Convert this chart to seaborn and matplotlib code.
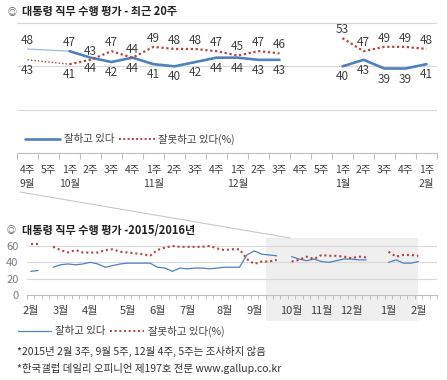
import numpy as np
import pandas as pd
import matplotlib
matplotlib.use("Agg")
import matplotlib.pyplot as plt
from matplotlib.lines import Line2D
from matplotlib.patches import Rectangle
import matplotlib.transforms as mtransforms
import seaborn as sns

nan = np.nan

# weekly, 2015 Feb wk1 .. 2016 Feb wk1 (%)
year_good = [29, 30, nan, 34, 37, 38, 37, 38, 40, 38,
             34, 36, 38, 39, 39, 39, 39, 34, 33, 29,
             33, 32, 33, 33, 32, 33, 34, 34, 34, 49,
             54, 50, 49, 48, nan, 47, 44, 42, 44, 41,
             40, 42, 44, 44, 43, 43, nan, nan, 40, 43,
             39, 39, 41]
year_bad = [62, 62, nan, 59, 55, 52, 55, 52, 52, 52,
            55, 56, 53, 52, 51, 50, 48, 55, 58, 60,
            59, 59, 59, 59, 60, 57, 55, 56, 56, 44,
            38, 41, 41, 43, nan, 41, 43, 47, 44, 49,
            48, 48, 47, 45, 47, 46, nan, nan, 53, 47,
            49, 49, 48]
year_months = ["2월", "3월", "4월", "5월", "6월", "7월", "8월", "9월",
               "10월", "11월", "12월", "1월", "2월"]
year_month_week = [0, 4, 8, 13, 17, 21, 26, 30, 35, 39, 43, 48, 52]

# last 20 weeks
recent_weeks = ["4주", "5주", "1주", "2주", "3주", "4주", "1주", "2주", "3주", "4주",
                "1주", "2주", "3주", "4주", "5주", "1주", "2주", "3주", "4주", "1주"]
recent_months = ["9월", "", "10월", "", "", "", "11월", "", "", "",
                 "12월", "", "", "", "", "1월", "", "", "", "2월"]
recent_good = year_good[33:]
recent_bad = year_bad[33:]

BLUE = "#4f81bd"
RED = "#b5433f"
GRID = "#d9d9d9"
AXIS = "#bfbfbf"
TXT = "#404040"

sns.set_theme(style="white")
plt.rcParams["font.family"] = ["Noto Sans CJK KR", "DejaVu Sans"]

W, H = 447, 380
fig = plt.figure(figsize=(W / 100, H / 100), dpi=100)


def px_box(left, top, right, bottom):
    return [left / W, 1 - bottom / H, (right - left) / W, (bottom - top) / H]


def draw_series(ax, y, **kw):
    df = pd.DataFrame({"x": np.arange(len(y)), "y": y})
    df["seg"] = df["y"].isna().cumsum()
    df = df.dropna()
    for _, part in df.groupby("seg"):
        sns.lineplot(data=part, x="x", y="y", ax=ax, **kw)


def draw_bridges(ax, y, **kw):
    for i in range(1, len(y) - 1):
        if np.isnan(y[i]) and not np.isnan(y[i - 1]) and not np.isnan(y[i + 1]):
            part = pd.DataFrame({"x": [i - 1, i + 1], "y": [y[i - 1], y[i + 1]]})
            sns.lineplot(data=part, x="x", y="y", ax=ax, **kw)


def style_axes(ax):
    for s in ["left", "right", "top"]:
        ax.spines[s].set_visible(False)
    ax.spines["bottom"].set_color(AXIS)
    ax.spines["bottom"].set_linewidth(0.8)
    ax.set_axisbelow(True)
    ax.yaxis.grid(True, color=GRID, lw=0.8)
    ax.xaxis.grid(False)
    ax.set_xlabel("")
    ax.set_ylabel("")


# ---- top: last 20 weeks
ax1 = fig.add_axes(px_box(17, 153 - 62 * 130 / 60, 437, 153))
ax1.patch.set_alpha(0)
draw_bridges(ax1, recent_good, color="#9dbbe0", lw=0.9)
draw_bridges(ax1, recent_bad, color=RED, lw=1.0, linestyle=(0, (1, 1.5)))
draw_series(ax1, recent_good, color=BLUE, lw=1.9)
draw_series(ax1, recent_bad, color=RED, lw=1.6, linestyle=(0, (1, 1.2)))

for i, (g, b) in enumerate(zip(recent_good, recent_bad)):
    if np.isnan(g):
        continue
    g_up = g >= b + 3
    ax1.annotate(f"{g:.0f}", (i, g), xytext=(0, 1.5 if g_up else -3),
                 textcoords="offset points", ha="center",
                 va="bottom" if g_up else "top", fontsize=8.5, color=TXT)
    ax1.annotate(f"{b:.0f}", (i, b), xytext=(0, -3 if g_up else 1.5),
                 textcoords="offset points", ha="center",
                 va="top" if g_up else "bottom", fontsize=8.5, color=TXT)

ax1.set_xlim(-0.5, len(recent_weeks) - 0.5)
ax1.set_ylim(0, 62)
ax1.set_yticks([20, 40, 60])
ax1.tick_params(axis="y", length=0, labelleft=False)
ax1.set_xticks(range(len(recent_weeks)))
ax1.set_xticklabels([w + ("\n" + m if m else "\n") for w, m in zip(recent_weeks, recent_months)],
                    linespacing=1.45)
ax1.set_xticks(np.arange(-0.5, len(recent_weeks)), minor=True)
ax1.tick_params(axis="x", which="major", length=0, pad=9, labelsize=7.5, labelcolor=TXT)
ax1.tick_params(axis="x", which="minor", bottom=True, length=4, color=AXIS, width=0.8)
for lab in ax1.get_xticklabels():
    lab.set_verticalalignment("top")
style_axes(ax1)

fig.legend(handles=[Line2D([], [], color=BLUE, lw=1.9),
                    Line2D([], [], color=RED, lw=1.4, linestyle=(0, (1, 1.2)))],
           labels=["잘하고 있다", "잘못하고 있다(%)"],
           loc="center left", bbox_to_anchor=(25 / W, 1 - 139 / H), ncol=2,
           frameon=False, fontsize=7.5, handlelength=3.4, handletextpad=0.3,
           columnspacing=0.5, borderpad=0, borderaxespad=0, labelcolor=TXT)

fig.text(8 / W, 1 - 12 / H, "◎", fontsize=6.5, color="#555555", va="center")
fig.text(22 / W, 1 - 12 / H, "대통령 직무 수행 평가 - 최근 20주", fontsize=8,
         fontweight="bold", color="#222222", va="center")

# ---- bottom: 2015/2016
ax2 = fig.add_axes(px_box(27, 295 - 70 * 49 / 60, 437, 295))
ax2.patch.set_alpha(0)
shade = Rectangle((31.5, -26 / 57.2), 20.5, 1 + 26 / 57.2,
                  transform=mtransforms.blended_transform_factory(ax2.transData, ax2.transAxes),
                  facecolor="#efefef", edgecolor="none", clip_on=False, zorder=0.1)
ax2.add_patch(shade)
draw_series(ax2, year_good, color=BLUE, lw=0.9)
draw_series(ax2, year_bad, color=RED, lw=1.5, linestyle=(0, (1, 1.4)))

n_axis = 55
ax2.set_xlim(-0.5, n_axis - 0.5)
ax2.set_ylim(0, 70)
ax2.set_yticks([0, 20, 40, 60])
ax2.tick_params(axis="y", length=0, pad=6, labelsize=8, labelcolor="#808080")
ax2.set_xticks(year_month_week)
ax2.set_xticklabels(year_months)
ax2.set_xticks(np.arange(-0.5, n_axis), minor=True)
ax2.tick_params(axis="x", which="major", length=0, pad=8, labelsize=8, labelcolor=TXT)
ax2.tick_params(axis="x", which="minor", bottom=True, length=3, color=AXIS, width=0.7)
style_axes(ax2)
for gl, v in zip(ax2.get_ygridlines(), [0, 20, 40, 60]):
    if v == 0:
        gl.set_visible(False)

fig.legend(handles=[Line2D([], [], color=BLUE, lw=0.9),
                    Line2D([], [], color=RED, lw=1.4, linestyle=(0, (1, 1.4)))],
           labels=["잘하고 있다", "잘못하고 있다(%)"],
           loc="center left", bbox_to_anchor=(18 / W, 1 - 331 / H), ncol=2,
           frameon=False, fontsize=7.5, handlelength=3.2, handletextpad=0.4,
           columnspacing=0.4, borderpad=0, borderaxespad=0, labelcolor=TXT)

fig.text(7 / W, 1 - 230 / H, "◎", fontsize=6.5, color="#555555", va="center")
fig.text(22 / W, 1 - 230 / H, "대통령 직무 수행 평가 -2015/2016년", fontsize=8,
         fontweight="bold", color="#222222", va="center")

fig.lines.append(Line2D([20 / W, 290 / W], [1 - 192 / H, 1 - 238 / H],
                        transform=fig.transFigure, color="#c8c8c8", lw=0.8))

fig.text(17 / W, 1 - 351 / H, "*2015년 2월 3주, 9월 5주, 12월 4주, 5주는 조사하지 않음",
         fontsize=7.5, color="#333333", va="center")
fig.text(17 / W, 1 - 369 / H, "*한국갤럽 데일리 오피니언 제197호 전문 www.gallup.co.kr",
         fontsize=7.5, color="#333333", va="center")

fig.savefig("out.png", dpi=100)
